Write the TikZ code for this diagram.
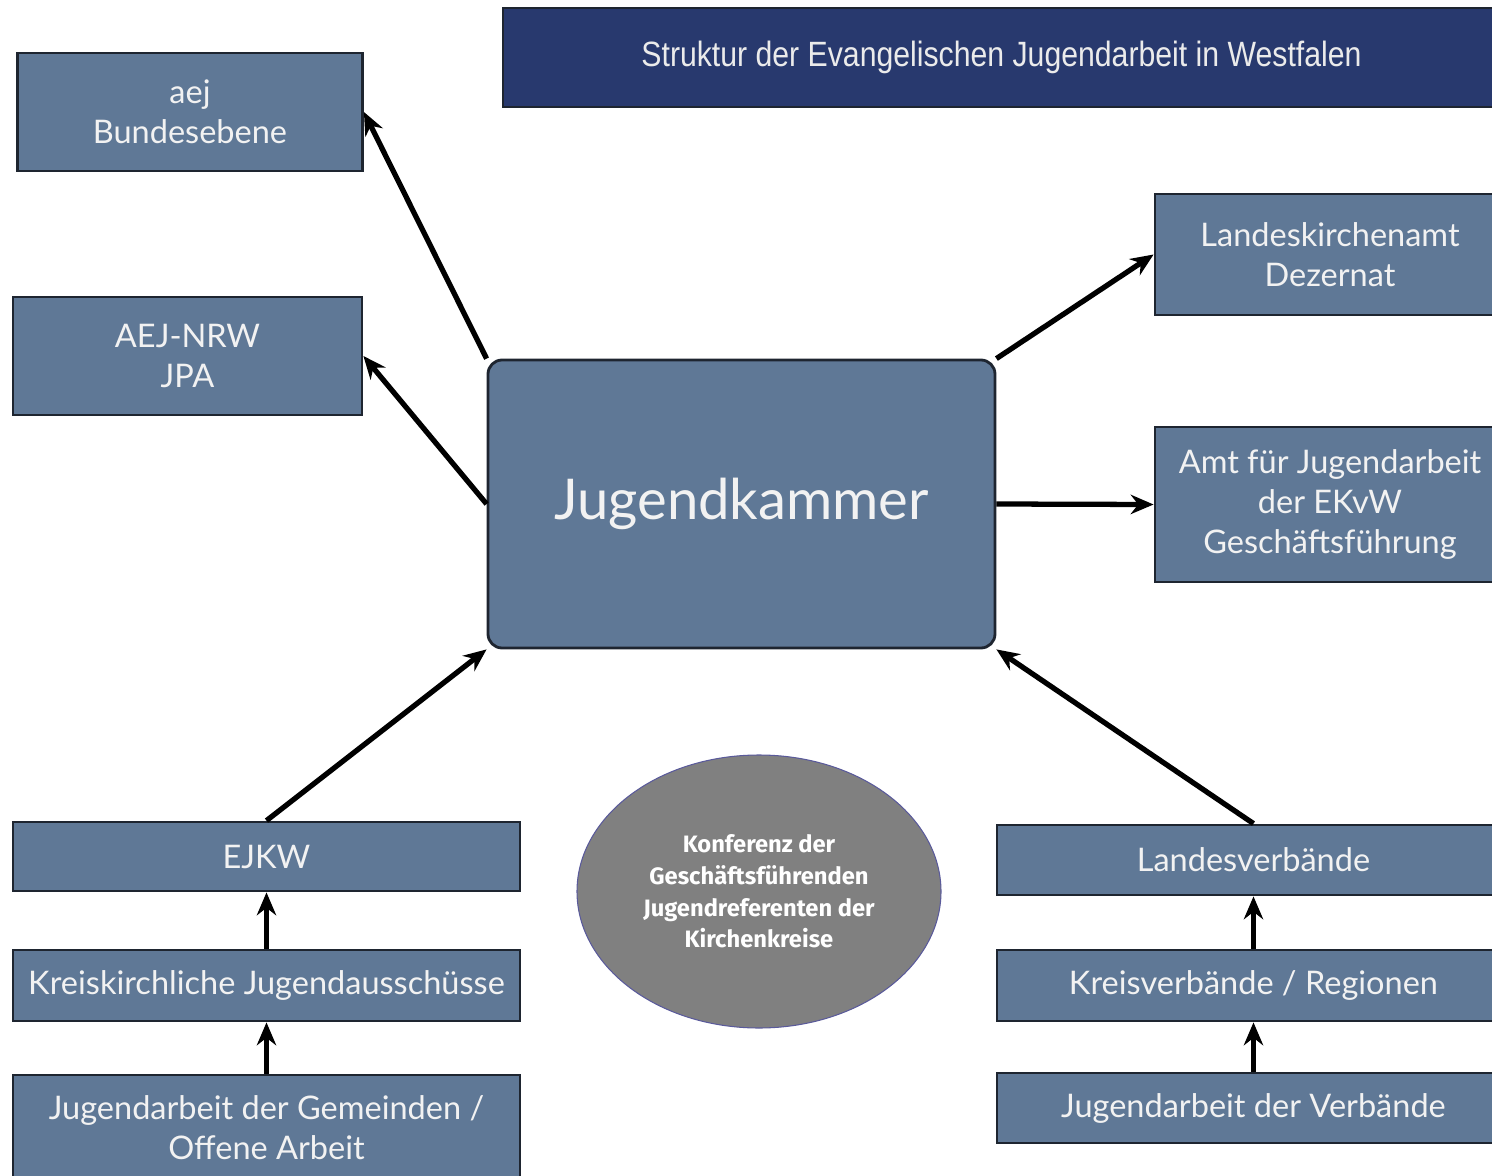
\documentclass[tikz,border=0pt]{standalone}
\usepackage{fontspec}
\setmainfont{Lato}
\newfontfamily\titlefont[FakeStretch=0.86]{Liberation Sans}
\newfontfamily\conffont{Fira Sans}
\usetikzlibrary{arrows.meta,shapes.geometric}
\definecolor{boxblue}{RGB}{95,120,150}
\definecolor{boxline}{RGB}{30,37,48}
\definecolor{titleblue}{RGB}{40,57,110}
\definecolor{confgray}{RGB}{128,128,128}
\definecolor{confline}{RGB}{90,90,155}
\tikzset{every path/.style={thick}}
\tikzset{
  sz/.style 2 args={minimum width=#1*0.02cm, minimum height=#2*0.02cm},
  orgbox/.style={draw=boxline, line width=1.6pt, fill=boxblue, text=white!95!black,
    inner sep=0pt, align=center, font=\fontsize{18.5}{23}\selectfont},
  titlebox/.style={draw=boxline, line width=1.2pt, fill=titleblue, text=white!92!black,
    inner sep=0pt, font=\titlefont\fontsize{20}{23}\selectfont},
  confell/.style={ellipse, draw=confline, line width=0.6pt, fill=confgray, text=white,
    inner sep=0pt, align=center, font=\conffont\bfseries\fontsize{13.5}{18}\selectfont},
  arr/.style={-{Stealth[length=13pt,width=11pt]}, line width=3pt, black},
}

\begin{document}
\begin{tikzpicture}[x=0.02cm,y=-0.02cm]
\useasboundingbox (0,0) rectangle (1492,1176);
\node[titlebox, sz={997}{99}] (title) at (1001.5,57.5) {Struktur der Evangelischen Jugendarbeit in Westfalen};
% linke Seite
\node[orgbox, sz={345}{118}] (aej) at (190,112) {aej\\Bundesebene};
\node[orgbox, sz={349}{118}] (nrw) at (187.5,356) {AEJ-NRW\\JPA};
\node[orgbox, sz={507}{69}] (ejkw) at (266.5,856.5) {EJKW};
\node[orgbox, sz={507}{71}] (kreisk) at (266.5,985.5) {Kreiskirchliche Jugendausschüsse};
\node[orgbox, sz={507}{105}] (gemeinden) at (266.5,1127.5) {Jugendarbeit der Gemeinden /\\Offene Arbeit};
% Mitte
\node[orgbox, sz={507}{288}, rounded corners=8pt, font=\fontsize{32}{38}\selectfont] (kammer) at (741.5,504) {Jugendkammer};
\node[confell, sz={364}{273}] (konf) at (759,891.5) {Konferenz der\\Geschäftsführenden\\Jugendreferenten der\\Kirchenkreise};
% rechte Seite
\node[orgbox, sz={350}{121}] (lka) at (1330,254.5) {Landeskirchenamt\\Dezernat};
\node[orgbox, sz={350}{155}] (amt) at (1330,504.5) {Amt für Jugendarbeit\\der EKvW\\Geschäftsführung};
\node[orgbox, sz={513}{70}] (landesv) at (1253.5,860) {Landesverbände};
\node[orgbox, sz={513}{71}] (kreisv) at (1253.5,985.5) {Kreisverbände / Regionen};
\node[orgbox, sz={513}{70}] (verbaende) at (1253.5,1108) {Jugendarbeit der Verbände};

\draw[arr] (kammer.north west) -- (aej.east);
\draw[arr] (kammer.west) -- (nrw.east);
\draw[arr] (kammer.north east) -- (lka.west);
\draw[arr] (kammer.east) -- (amt.west);
\draw[arr] (ejkw.north) -- (kammer.south west);
\draw[arr] (landesv.north) -- (kammer.south east);
\draw[arr] (kreisk.north) -- (ejkw.south);
\draw[arr] (gemeinden.north) -- (kreisk.south);
\draw[arr] (kreisv.north) -- (landesv.south);
\draw[arr] (verbaende.north) -- (kreisv.south);
\end{tikzpicture}
\end{document}
